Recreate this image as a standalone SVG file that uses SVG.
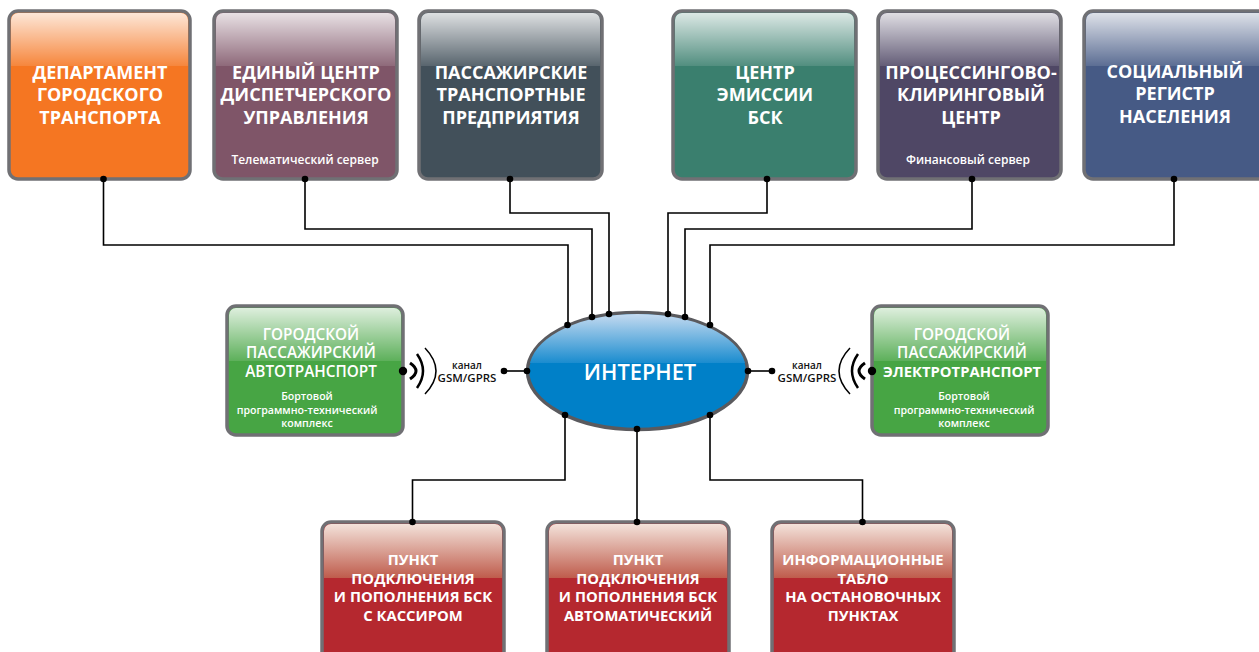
<svg xmlns="http://www.w3.org/2000/svg" width="1259" height="652" viewBox="0 0 1259 652">
<style>
text{font-family:"Open Sans","Noto Sans","Liberation Sans",sans-serif;fill:#fff;text-anchor:middle}
.t{font-size:18px;font-weight:700}
.m{font-size:15.300px;font-weight:600}
.n{font-size:14.800px;font-weight:700}
.s{font-size:12px;font-weight:600}
.x{font-size:10.600px;font-weight:600}
.k{fill:#111;font-size:10px;font-weight:600}
.l{fill:#111;font-size:11.500px;font-weight:600}
.b{stroke:#707074;stroke-width:3.500}
.g{fill:url(#gl)}
.r{fill:url(#rd)}
.c{fill:none;stroke:#000;stroke-width:1.600}
.w{fill:none;stroke:#000}
</style>
<defs>
<linearGradient id="gl" x1="0" y1="0" x2="0" y2="1"><stop offset="0" stop-color="#fff" stop-opacity=".82"/><stop offset="1" stop-color="#fff" stop-opacity=".12"/></linearGradient>
<linearGradient id="rd" x1="0" y1="0" x2="0" y2="1"><stop offset="0" stop-color="#f3e2da"/><stop offset="1" stop-color="#bf5c4c"/></linearGradient>
<linearGradient id="bl" x1="0" y1="0" x2="0" y2="1"><stop offset="0" stop-color="#c4daf0"/><stop offset="1" stop-color="#1a8ccf"/></linearGradient>
</defs>
<g id="connectors">
<path class="c" d="M103.500 179V245H568V325"/>
<path class="c" d="M305 179V229H592V317"/>
<path class="c" d="M510 179V213H609V314"/>
<path class="c" d="M767 179V213H668V314"/>
<path class="c" d="M972 179V229H685V317"/>
<path class="c" d="M1174 179V245H710V325"/>
<path class="c" d="M504 371H527"/>
<path class="c" d="M748 371H772"/>
<path class="c" d="M565 415V480H412.500V522"/>
<path class="c" d="M637 429V522"/>
<path class="c" d="M710 415V480H862.500V522"/>
</g>
<g id="n1"><rect class="b" x="9" y="11" width="181" height="168" rx="9" fill="#f57622"/><path class="g" d="M11 66V20a7 7 0 0 1 7-7H181a7 7 0 0 1 7 7V66Z"/>
<text class="t" x="100" y="79">ДЕПАРТАМЕНТ</text><text class="t" x="100" y="101">ГОРОДСКОГО</text><text class="t" x="100" y="124">ТРАНСПОРТА</text></g>
<g id="n2"><rect class="b" x="214" y="11" width="183" height="168" rx="9" fill="#7f5568"/><path class="g" d="M216 66V20a7 7 0 0 1 7-7H388a7 7 0 0 1 7 7V66Z"/>
<text class="t" x="306" y="79">ЕДИНЫЙ ЦЕНТР</text><text class="t" x="306" y="101">ДИСПЕТЧЕРСКОГО</text><text class="t" x="306" y="124">УПРАВЛЕНИЯ</text><text class="s" x="305" y="164">Телематический сервер</text></g>
<g id="n3"><rect class="b" x="419" y="11" width="183" height="168" rx="9" fill="#42505a"/><path class="g" d="M421 66V20a7 7 0 0 1 7-7H593a7 7 0 0 1 7 7V66Z"/>
<text class="t" x="511" y="79">ПАССАЖИРСКИЕ</text><text class="t" x="511" y="101">ТРАНСПОРТНЫЕ</text><text class="t" x="511" y="124">ПРЕДПРИЯТИЯ</text></g>
<g id="n4"><rect class="b" x="673" y="11" width="183" height="168" rx="9" fill="#3a7f6e"/><path class="g" d="M675 66V20a7 7 0 0 1 7-7H847a7 7 0 0 1 7 7V66Z"/>
<text class="t" x="765" y="79">ЦЕНТР</text><text class="t" x="765" y="101">ЭМИССИИ</text><text class="t" x="765" y="124">БСК</text></g>
<g id="n5"><rect class="b" x="878" y="11" width="183" height="168" rx="9" fill="#4f4765"/><path class="g" d="M880 66V20a7 7 0 0 1 7-7H1052a7 7 0 0 1 7 7V66Z"/>
<text class="t" x="971" y="79">ПРОЦЕССИНГОВО-</text><text class="t" x="971" y="101">КЛИРИНГОВЫЙ</text><text class="t" x="971" y="124">ЦЕНТР</text><text class="s" x="968" y="164">Финансовый сервер</text></g>
<g id="n6"><rect class="b" x="1084" y="11" width="183" height="168" rx="9" fill="#465a85"/><path class="g" d="M1086 66V20a7 7 0 0 1 7-7H1258a7 7 0 0 1 7 7V66Z"/>
<text class="t" x="1175" y="78">СОЦИАЛЬНЫЙ</text><text class="t" x="1175" y="100">РЕГИСТР</text><text class="t" x="1175" y="123">НАСЕЛЕНИЯ</text></g>
<g id="n7"><rect class="b" x="227" y="306" width="176" height="129" rx="9" fill="#47a544"/><path class="g" d="M229 361V315a7 7 0 0 1 7-7H394a7 7 0 0 1 7 7V361Z"/>
<text class="m" x="311" y="340">ГОРОДСКОЙ</text><text class="m" x="311" y="358">ПАССАЖИРСКИЙ</text><text class="m" x="311" y="377">АВТОТРАНСПОРТ</text>
<text class="x" x="307" y="400">Бортовой</text><text class="x" x="307" y="414">программно-технический</text><text class="x" x="307" y="427">комплекс</text></g>
<g id="n8"><rect class="b" x="872" y="306" width="176" height="129" rx="9" fill="#47a544"/><path class="g" d="M874 361V315a7 7 0 0 1 7-7H1039a7 7 0 0 1 7 7V361Z"/>
<text class="m" x="962" y="340">ГОРОДСКОЙ</text><text class="m" x="962" y="358">ПАССАЖИРСКИЙ</text><text class="n" x="962" y="377">ЭЛЕКТРОТРАНСПОРТ</text>
<text class="x" x="964" y="400">Бортовой</text><text class="x" x="964" y="414">программно-технический</text><text class="x" x="964" y="427">комплекс</text></g>
<g id="n9"><rect class="b" x="322" y="522" width="182" height="140" rx="9" fill="#b5282f"/><path class="r" d="M324 578V531a7 7 0 0 1 7-7H495a7 7 0 0 1 7 7V578Z"/>
<text class="n" x="413" y="565">ПУНКТ</text><text class="n" x="413" y="584">ПОДКЛЮЧЕНИЯ</text><text class="n" x="413" y="602">И ПОПОЛНЕНИЯ БСК</text><text class="n" x="413" y="621">С КАССИРОМ</text></g>
<g id="n10"><rect class="b" x="547" y="522" width="182" height="140" rx="9" fill="#b5282f"/><path class="r" d="M549 578V531a7 7 0 0 1 7-7H720a7 7 0 0 1 7 7V578Z"/>
<text class="n" x="638" y="565">ПУНКТ</text><text class="n" x="638" y="584">ПОДКЛЮЧЕНИЯ</text><text class="n" x="638" y="602">И ПОПОЛНЕНИЯ БСК</text><text class="n" x="638" y="621">АВТОМАТИЧЕСКИЙ</text></g>
<g id="n11"><rect class="b" x="772" y="522" width="182" height="140" rx="9" fill="#b5282f"/><path class="r" d="M774 578V531a7 7 0 0 1 7-7H945a7 7 0 0 1 7 7V578Z"/>
<text class="n" x="863" y="565">ИНФОРМАЦИОННЫЕ</text><text class="n" x="863" y="584">ТАБЛО</text><text class="n" x="863" y="602">НА ОСТАНОВОЧНЫХ</text><text class="n" x="863" y="621">ПУНКТАХ</text></g>
<g id="internet"><ellipse cx="637.500" cy="371" rx="110" ry="58.500" fill="#0080c8" stroke="#5a5a5e" stroke-width="3.500"/>
<path fill="url(#bl)" d="M530 363C537 335 581 314 637.500 314S738 335 745 363Z"/>
<text x="640" y="380" font-size="21.800" font-weight="600">ИНТЕРНЕТ</text></g>
<g id="wireless-left"><path class="w" stroke-width="3" d="M410 363Q422 371 410 379"/><path class="w" stroke-width="2.500" d="M417 354Q429 371 417 388"/><path class="w" stroke-width="1.500" d="M425 348Q447 371 425 394"/>
<text class="k" x="467" y="369">канал</text><text class="l" x="467" y="382">GSM/GPRS</text></g>
<g id="wireless-right"><path class="w" stroke-width="3" d="M865 363Q853 371 865 379"/><path class="w" stroke-width="2.500" d="M858 354Q846 371 858 388"/><path class="w" stroke-width="1.500" d="M850 348Q828 371 850 394"/>
<text class="k" x="807" y="369">канал</text><text class="l" x="807" y="382">GSM/GPRS</text></g>
<g id="dots" fill="#000">
<circle cx="103.500" cy="179" r="3.300"/><circle cx="305" cy="179" r="3.300"/><circle cx="510" cy="179" r="3.300"/><circle cx="767" cy="179" r="3.300"/><circle cx="972" cy="179" r="3.300"/><circle cx="1174" cy="179" r="3.300"/>
<circle cx="567.500" cy="325" r="3.300"/><circle cx="592" cy="317" r="3.300"/><circle cx="609" cy="314" r="3.300"/><circle cx="668" cy="314" r="3.300"/><circle cx="685" cy="317" r="3.300"/><circle cx="710" cy="325" r="3.300"/>
<circle cx="527" cy="371" r="3.300"/><circle cx="748" cy="371" r="3.300"/><circle cx="504" cy="371" r="3.300"/><circle cx="772" cy="371" r="3.300"/>
<circle cx="403" cy="371" r="4.200"/><circle cx="872" cy="371" r="4.200"/>
<circle cx="565" cy="415" r="3.300"/><circle cx="637" cy="429" r="3.300"/><circle cx="710" cy="415" r="3.300"/>
<circle cx="412.500" cy="522" r="3.300"/><circle cx="637" cy="522" r="3.300"/><circle cx="862.500" cy="522" r="3.300"/>
</g>
</svg>
